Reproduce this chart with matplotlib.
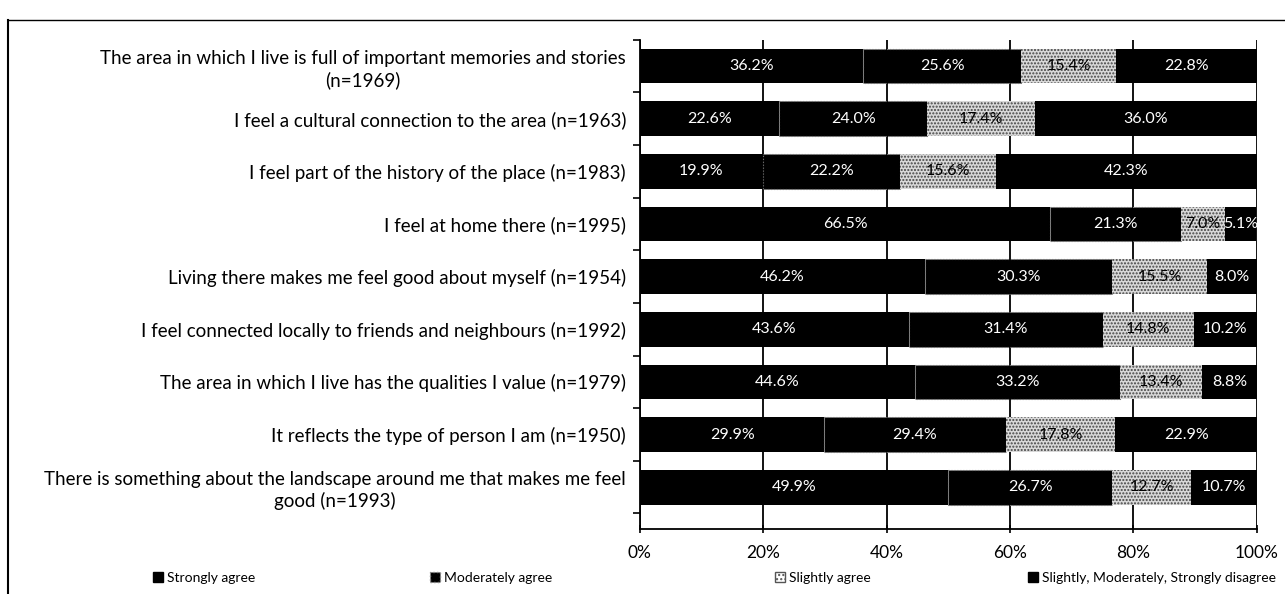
import matplotlib.pyplot as plt
from matplotlib.patches import Patch
from matplotlib.lines import Line2D
import numpy as np

plt.rcParams['font.family'] = ['Lato', 'DejaVu Sans']
plt.rcParams['hatch.linewidth'] = 1.0

statements = [
    "The area in which I live is full of important memories and stories\n(n=1969)",
    "I feel a cultural connection to the area (n=1963)",
    "I feel part of the history of the place (n=1983)",
    "I feel at home there (n=1995)",
    "Living there makes me feel good about myself (n=1954)",
    "I feel connected locally to friends and neighbours (n=1992)",
    "The area in which I live has the qualities I value (n=1979)",
    "It reflects the type of person I am (n=1950)",
    "There is something about the landscape around me that makes me feel\ngood (n=1993)",
]

strongly = [36.2, 22.6, 19.9, 66.5, 46.2, 43.6, 44.6, 29.9, 49.9]
moderately = [25.6, 24.0, 22.2, 21.3, 30.3, 31.4, 33.2, 29.4, 26.7]
slightly = [15.4, 17.4, 15.6, 7.0, 15.5, 14.8, 13.4, 17.8, 12.7]
disagree = [22.8, 36.0, 42.3, 5.1, 8.0, 10.2, 8.8, 22.9, 10.7]

legend_names = ["Strongly agree", "Moderately agree", "Slightly agree",
                "Slightly, Moderately, Strongly disagree"]

fig = plt.figure(figsize=(12.85, 5.94), dpi=100)
ax = fig.add_axes([0.498, 0.109, 0.48, 0.824])

y = np.arange(len(statements))
h = 0.66

left = np.zeros(len(y))
series = [strongly, moderately, slightly, disagree]
for i, vals in enumerate(series):
    vals = np.array(vals)
    if i == 2:
        bars = ax.barh(y, vals, h, left=left, color='#d9d9d9', edgecolor='#444444',
                       hatch='.....', linewidth=0, zorder=3)
        tcol = 'black'
    elif i == 1:
        bars = ax.barh(y, vals, h, left=left, color='black', edgecolor='#777777',
                       linewidth=0.8, linestyle=':', zorder=3)
        tcol = 'white'
    else:
        bars = ax.barh(y, vals, h, left=left, color='black', linewidth=0, zorder=3)
        tcol = 'white'
    ax.bar_label(bars, labels=[f"{v:.1f}%" for v in vals], label_type='center',
                 color=tcol, fontsize=11.5, zorder=4)
    left += vals

ax.set_xlim(0, 100)
ax.set_ylim(8.8, -0.5)
ax.set_xticks(np.arange(0, 101, 20))
ax.set_xticklabels([f"{t}%" for t in range(0, 101, 20)], fontsize=12.5)
ax.xaxis.grid(True, color='black', linewidth=1.3, zorder=0)
ax.set_yticks(y)
ax.set_yticklabels(statements, fontsize=13.5, linespacing=1.25)
ax.set_yticks(np.arange(-0.5, 9, 1), minor=True)
ax.tick_params(axis='y', which='major', length=0, pad=10)
ax.tick_params(axis='y', which='minor', length=5, width=1.2, direction='out')
ax.tick_params(axis='x', length=6, width=1.2, direction='inout', pad=8)
for lbl in ax.get_yticklabels():
    lbl.set_multialignment('center')
ax.spines['top'].set_visible(False)
ax.spines['right'].set_visible(False)
ax.spines['left'].set_linewidth(1.3)
ax.spines['bottom'].set_linewidth(1.3)

# legend entries spread along the bottom
handles = [
    Patch(facecolor='black', edgecolor='black'),
    Patch(facecolor='black', edgecolor='#888888', linestyle=':'),
    Patch(facecolor='white', edgecolor='#555555', hatch='....'),
    Patch(facecolor='black', edgecolor='black'),
]
xpos = [0.119, 0.335, 0.603, 0.80]
for hd, name, xp in zip(handles, legend_names, xpos):
    fig.legend([hd], [name], loc='center left', bbox_to_anchor=(xp, 0.027),
               frameon=False, fontsize=10, handlelength=0.7, handleheight=0.7,
               handletextpad=0.3, borderpad=0, borderaxespad=0)

# page border at top and left
fig.add_artist(Line2D([0.006, 0.006], [0.0, 0.966], color='black', linewidth=1.5))
fig.add_artist(Line2D([0.006, 1.0], [0.966, 0.966], color='black', linewidth=1.0))

fig.savefig('out.png', dpi=100)
